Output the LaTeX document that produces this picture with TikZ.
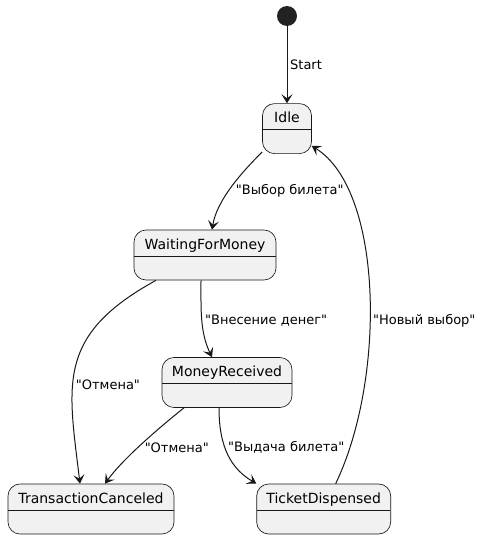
\documentclass[tikz,border=0pt]{standalone}
\usepackage{fontspec}
\newfontfamily\plfont{DejaVu Sans}
\usepackage{xcolor}
\definecolor{colorFill}{HTML}{F1F1F1}
\definecolor{colorLine}{HTML}{181818}
\definecolor{colorStart}{HTML}{222222}
\usepackage{tikz}
\usetikzlibrary{arrows.meta, positioning}
\tikzset{stbox/.style={draw=colorLine, line width=0.5pt, fill=colorFill, rounded corners=9pt, inner ysep=0pt, text height=14.25pt, text depth=23.25pt, font=\plfont\fontsize{10.5}{12}\selectfont, path picture={\draw[colorLine, line width=0.5pt] ([yshift=-19.5pt]path picture bounding box.north west) -- ([yshift=-19.5pt]path picture bounding box.north east);}}}
\tikzset{initdot/.style={circle, fill=colorStart, minimum size=15pt, inner sep=0pt}}
\tikzset{tr/.style={->, draw=colorLine, line width=0.75pt}}
\tikzset{lbl/.style={font=\plfont\fontsize{9.75}{11}\selectfont, inner sep=2pt}}

\begin{document}
\begin{tikzpicture}[x=0.75pt, y=-0.75pt, >={Stealth[length=6.75pt, width=8.25pt, inset=3pt]}]
\useasboundingbox (0,0) rectangle (483,539);
\node[initdot] (init) at (287,16) {};
\node[stbox, minimum width=36.75pt, below=57.75pt of init] (idle) {Idle};
\node[stbox, minimum width=106.5pt] (wfm) at (205,255) {WaitingForMoney};
\node[stbox, minimum width=97.5pt] (mr) at (227,382.5) {MoneyReceived};
\node[stbox, minimum width=124.5pt] (tc) at (91,509) {TransactionCanceled};
\node[stbox, minimum width=100.5pt, right=61.5pt of tc] (td) {TicketDispensed};
\draw[tr] (init) -- node[lbl, right]{Start} (idle);
\draw[tr] ([yshift=1.5pt]idle.south west) .. controls +(-20,20) and +(5,-30) .. node[lbl, pos=0.55, right, xshift=3pt]{"Выбор билета"} ([xshift=5.25pt]wfm.north);
\draw[tr] ([xshift=-36.75pt]wfm.south) .. controls +(-100,55) and +(-12,-100) .. node[lbl, pos=0.6, right]{"Отмена"} ([xshift=-8.25pt]tc.north);
\draw[tr] ([xshift=-3pt]wfm.south) .. controls +(0,30) and +(-12,-25) .. node[lbl, pos=0.5, right]{"Внесение денег"} ([xshift=-11.25pt]mr.north);
\draw[tr] ([xshift=-32.25pt]mr.south) .. controls +(-25,20) and +(18,-25) .. node[lbl, pos=0.55, right, xshift=3pt]{"Отмена"} ([xshift=10.5pt]tc.north);
\draw[tr] ([xshift=-6pt]mr.south) .. controls +(0,40) and +(-25,-15) .. node[lbl, pos=0.4, right]{"Выдача билета"} (td.north west);
\draw[tr] ([xshift=9pt]td.north) .. controls +(50,-104) and +(72,45) .. node[lbl, pos=0.43, right]{"Новый выбор"} ([yshift=6pt]idle.south east);
\end{tikzpicture}
\end{document}
